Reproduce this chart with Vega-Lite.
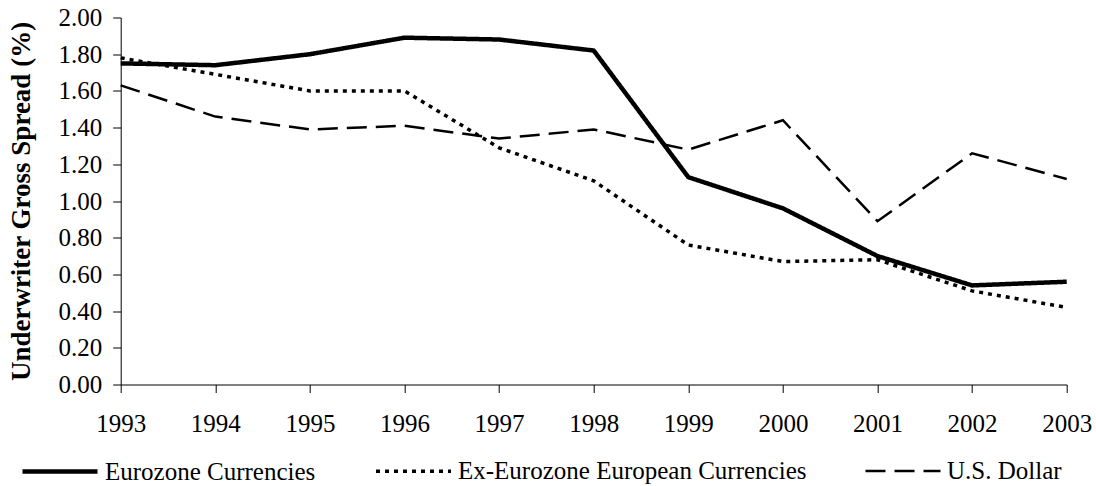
{
  "$schema": "https://vega.github.io/schema/vega-lite/v6.json",
  "autosize": "none",
  "width": 946,
  "height": 367,
  "padding": {"left": 120.7, "top": 17.5, "right": 29.3, "bottom": 101.5},
  "background": "white",
  "config": {
    "view": {"stroke": null},
    "font": "Liberation Serif",
    "axis": {
      "labelFont": "Liberation Serif",
      "titleFont": "Liberation Serif",
      "labelColor": "black",
      "titleColor": "black",
      "domainColor": "black",
      "tickColor": "black",
      "grid": false,
      "labelFontSize": 25,
      "tickSize": 8
    },
    "legend": {
      "labelFont": "Liberation Serif",
      "labelFontSize": 25,
      "labelColor": "black",
      "labelLimit": 600
    }
  },
  "data": {
    "values": [
      {"series": "Eurozone Currencies", "year": 1993, "value": 1.75},
      {"series": "Eurozone Currencies", "year": 1994, "value": 1.74},
      {"series": "Eurozone Currencies", "year": 1995, "value": 1.80},
      {"series": "Eurozone Currencies", "year": 1996, "value": 1.89},
      {"series": "Eurozone Currencies", "year": 1997, "value": 1.88},
      {"series": "Eurozone Currencies", "year": 1998, "value": 1.82},
      {"series": "Eurozone Currencies", "year": 1999, "value": 1.13},
      {"series": "Eurozone Currencies", "year": 2000, "value": 0.96},
      {"series": "Eurozone Currencies", "year": 2001, "value": 0.70},
      {"series": "Eurozone Currencies", "year": 2002, "value": 0.54},
      {"series": "Eurozone Currencies", "year": 2003, "value": 0.56},
      {"series": "Ex-Eurozone European Currencies", "year": 1993, "value": 1.78},
      {"series": "Ex-Eurozone European Currencies", "year": 1994, "value": 1.69},
      {"series": "Ex-Eurozone European Currencies", "year": 1995, "value": 1.60},
      {"series": "Ex-Eurozone European Currencies", "year": 1996, "value": 1.60},
      {"series": "Ex-Eurozone European Currencies", "year": 1997, "value": 1.29},
      {"series": "Ex-Eurozone European Currencies", "year": 1998, "value": 1.11},
      {"series": "Ex-Eurozone European Currencies", "year": 1999, "value": 0.76},
      {"series": "Ex-Eurozone European Currencies", "year": 2000, "value": 0.67},
      {"series": "Ex-Eurozone European Currencies", "year": 2001, "value": 0.68},
      {"series": "Ex-Eurozone European Currencies", "year": 2002, "value": 0.51},
      {"series": "Ex-Eurozone European Currencies", "year": 2003, "value": 0.42},
      {"series": "U.S. Dollar", "year": 1993, "value": 1.63},
      {"series": "U.S. Dollar", "year": 1994, "value": 1.46},
      {"series": "U.S. Dollar", "year": 1995, "value": 1.39},
      {"series": "U.S. Dollar", "year": 1996, "value": 1.41},
      {"series": "U.S. Dollar", "year": 1997, "value": 1.34},
      {"series": "U.S. Dollar", "year": 1998, "value": 1.39},
      {"series": "U.S. Dollar", "year": 1999, "value": 1.28},
      {"series": "U.S. Dollar", "year": 2000, "value": 1.44},
      {"series": "U.S. Dollar", "year": 2001, "value": 0.89},
      {"series": "U.S. Dollar", "year": 2002, "value": 1.26},
      {"series": "U.S. Dollar", "year": 2003, "value": 1.12}
    ]
  },
  "mark": {"type": "line", "color": "black", "strokeCap": "butt", "strokeJoin": "miter"},
  "encoding": {
    "x": {
      "field": "year",
      "type": "quantitative",
      "scale": {"domain": [1993, 2003], "nice": false, "zero": false},
      "axis": {
        "title": null,
        "values": [1993, 1994, 1995, 1996, 1997, 1998, 1999, 2000, 2001, 2002, 2003],
        "format": "d",
        "labelPadding": 19,
        "labelFlush": false,
        "labelOverlap": false
      }
    },
    "y": {
      "field": "value",
      "type": "quantitative",
      "scale": {"domain": [0, 2], "nice": false},
      "axis": {
        "title": "Underwriter Gross Spread (%)",
        "titleFontSize": 27,
        "titleFontWeight": "bold",
        "titlePadding": 22,
        "values": [0, 0.2, 0.4, 0.6, 0.8, 1.0, 1.2, 1.4, 1.6, 1.8, 2.0],
        "format": ".2f",
        "labelPadding": 11,
        "labelFlush": false,
        "labelOverlap": false
      }
    },
    "strokeDash": {
      "field": "series",
      "type": "nominal",
      "scale": {
        "domain": ["Eurozone Currencies", "Ex-Eurozone European Currencies", "U.S. Dollar"],
        "range": [[1, 0], [4, 5], [20, 9]]
      },
      "legend": {
        "title": null,
        "orient": "none",
        "direction": "horizontal",
        "legendX": -100.7,
        "legendY": 414,
        "symbolType": "stroke",
        "symbolSize": 5625,
        "symbolStrokeColor": "black",
        "labelOffset": 5,
        "labelLimit": 600,
        "columnPadding": 53
      }
    },
    "strokeWidth": {
      "field": "series",
      "type": "nominal",
      "scale": {
        "domain": ["Eurozone Currencies", "Ex-Eurozone European Currencies", "U.S. Dollar"],
        "range": [4.5, 2.5, 2.5]
      },
      "legend": {
        "title": null,
        "orient": "none",
        "direction": "horizontal",
        "legendX": -100.7,
        "legendY": 414,
        "symbolType": "stroke",
        "symbolSize": 5625,
        "symbolStrokeColor": "black",
        "labelOffset": 5,
        "labelLimit": 600,
        "columnPadding": 53
      }
    }
  }
}
